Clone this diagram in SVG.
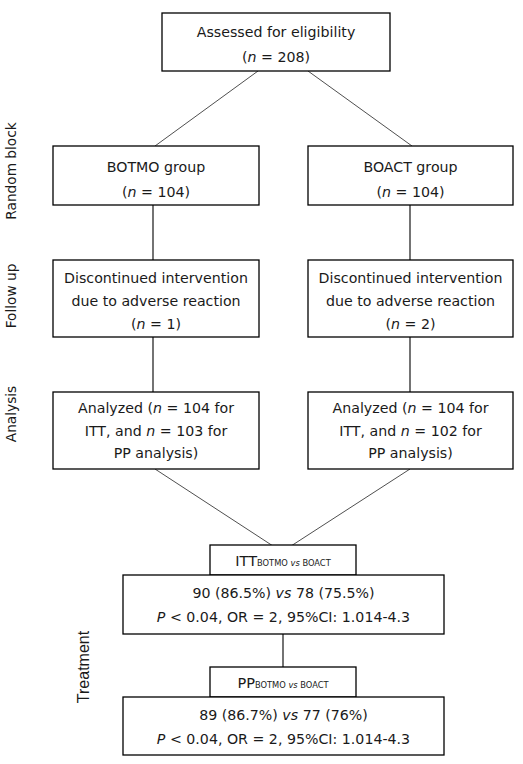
<svg xmlns="http://www.w3.org/2000/svg" width="523" height="764" viewBox="0 0 523 764">
<style>
.box{fill:#fff;stroke:#000;stroke-width:1.3}
.t{font-family:"DejaVu Sans",Verdana,sans-serif;font-size:14.2px;fill:#1a1a1a;text-anchor:middle}
.i{font-style:italic}
.lab{font-size:14.5px}
.sub{font-size:8.3px}
.side{font-family:"DejaVu Sans",Verdana,sans-serif;font-size:13.7px;fill:#1a1a1a;text-anchor:middle}
.tr{font-family:"Liberation Sans",Arial,sans-serif;font-size:16px;fill:#1a1a1a;text-anchor:middle}
.diag{stroke:#222;stroke-width:0.8;fill:none}
.vert{stroke:#000;stroke-width:1.1;fill:none}
</style>
<rect width="523" height="764" fill="#fff"/>
<g id="connectors">
<line class="diag" x1="258" y1="71" x2="155" y2="146"/>
<line class="diag" x1="308" y1="71" x2="412" y2="146"/>
<line class="vert" x1="153" y1="205" x2="153" y2="260"/>
<line class="vert" x1="410" y1="205" x2="410" y2="260"/>
<line class="vert" x1="153" y1="337" x2="153" y2="392"/>
<line class="vert" x1="410" y1="337" x2="410" y2="392"/>
<line class="diag" x1="155" y1="469" x2="273" y2="546"/>
<line class="diag" x1="410" y1="469" x2="291" y2="546"/>
<line class="vert" x1="283" y1="634" x2="283" y2="667"/>
</g>
<g id="side-labels">
<text class="side" transform="translate(16,171) rotate(-90)">Random block</text>
<text class="side" transform="translate(16,296) rotate(-90)">Follow up</text>
<text class="side" transform="translate(16,414) rotate(-90)">Analysis</text>
<text class="tr" transform="translate(89,667) rotate(-90)">Treatment</text>
</g>
<g id="assessed">
<rect class="box" x="162" y="13" width="228" height="58"/>
<text class="t" x="276" y="37">Assessed for eligibility</text>
<text class="t" x="276" y="62">(<tspan class="i">n</tspan> = 208)</text>
</g>
<g id="botmo">
<rect class="box" x="53" y="146" width="206" height="59"/>
<text class="t" x="156" y="172">BOTMO group</text>
<text class="t" x="156" y="197">(<tspan class="i">n</tspan> = 104)</text>
</g>
<g id="boact">
<rect class="box" x="308" y="146" width="205" height="59"/>
<text class="t" x="410.5" y="172">BOACT group</text>
<text class="t" x="410.5" y="197">(<tspan class="i">n</tspan> = 104)</text>
</g>
<g id="discontinued-botmo">
<rect class="box" x="53" y="260" width="206" height="77"/>
<text class="t" x="156" y="283">Discontinued intervention</text>
<text class="t" x="156" y="306">due to adverse reaction</text>
<text class="t" x="156" y="329">(<tspan class="i">n</tspan> = 1)</text>
</g>
<g id="discontinued-boact">
<rect class="box" x="308" y="260" width="205" height="77"/>
<text class="t" x="410.5" y="283">Discontinued intervention</text>
<text class="t" x="410.5" y="306">due to adverse reaction</text>
<text class="t" x="410.5" y="329">(<tspan class="i">n</tspan> = 2)</text>
</g>
<g id="analyzed-botmo">
<rect class="box" x="53" y="392" width="206" height="77"/>
<text class="t" x="156" y="413">Analyzed (<tspan class="i">n</tspan> = 104 for</text>
<text class="t" x="156" y="436">ITT, and <tspan class="i">n</tspan> = 103 for</text>
<text class="t" x="156" y="458">PP analysis)</text>
</g>
<g id="analyzed-boact">
<rect class="box" x="308" y="392" width="205" height="77"/>
<text class="t" x="410.5" y="413">Analyzed (<tspan class="i">n</tspan> = 104 for</text>
<text class="t" x="410.5" y="436">ITT, and <tspan class="i">n</tspan> = 102 for</text>
<text class="t" x="410.5" y="458">PP analysis)</text>
</g>
<g id="itt">
<rect class="box" x="210" y="545" width="146" height="30"/>
<text class="t lab" x="283" y="566">ITT<tspan class="sub">BOTMO <tspan class="i">vs</tspan> BOACT</tspan></text>
<rect class="box" x="123" y="575" width="321" height="59"/>
<text class="t" x="283.5" y="598">90 (86.5%) <tspan class="i">vs</tspan> 78 (75.5%)</text>
<text class="t" x="283.5" y="622"><tspan class="i">P</tspan> &lt; 0.04, OR = 2, 95%CI: 1.014-4.3</text>
</g>
<g id="pp">
<rect class="box" x="210" y="667" width="146" height="30"/>
<text class="t lab" x="283" y="688">PP<tspan class="sub">BOTMO <tspan class="i">vs</tspan> BOACT</tspan></text>
<rect class="box" x="123" y="697" width="321" height="58"/>
<text class="t" x="283.5" y="720">89 (86.7%) <tspan class="i">vs</tspan> 77 (76%)</text>
<text class="t" x="283.5" y="744"><tspan class="i">P</tspan> &lt; 0.04, OR = 2, 95%CI: 1.014-4.3</text>
</g>
</svg>
